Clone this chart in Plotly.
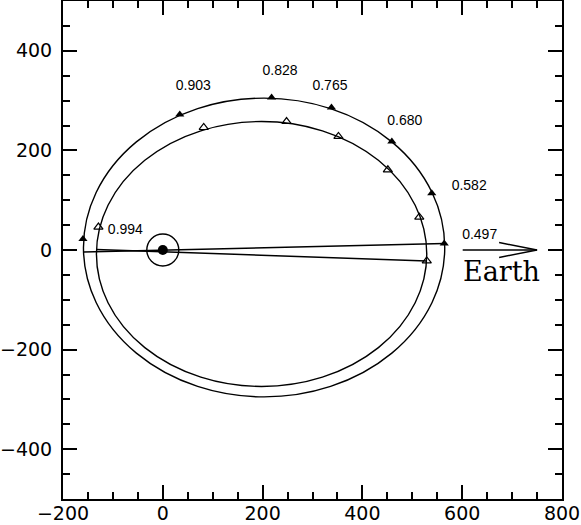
import plotly.graph_objects as go

# orbit ellipses: centre and semi-axes (data units)
outer_center = [203, 5]
outer_axes = [362, 300]
inner_center = [198, -8]
inner_axes = [331, 266]

# positions along the orbits
outer_x = [-160, 34, 218, 338, 459, 539, 564]
outer_y = [22, 272, 306, 286, 218, 114, 13]
inner_x = [-129, 82, 248, 352, 451, 514, 529]
inner_y = [46, 246, 258, 228, 161, 66, -22]

labels = ["0.994", "0.903", "0.828", "0.765", "0.680", "0.582", "0.497"]
label_x = [-75, 61, 235, 335, 485, 614, 635]
label_y = [39, 328, 359, 328, 258, 128, 29]

# lines through the Sun
line_a_x = [-159, 564]
line_a_y = [-4, 13]
line_b_x = [-133, 529]
line_b_y = [1, -22]

# direction to Earth
arrow_x = [601, 750]
arrow_y = [0, 0]
head_x = [674, 750, 674]
head_y = [15, 0, -15]
earth_pos = [679, -43]

BLACK = "#000000"


def ellipse_shape(center, axes):
    return dict(
        type="circle",
        xref="x",
        yref="y",
        x0=center[0] - axes[0],
        x1=center[0] + axes[0],
        y0=center[1] - axes[1],
        y1=center[1] + axes[1],
        line=dict(color=BLACK, width=1.4),
        layer="below",
    )


fig = go.Figure()

for xs, ys in [(line_a_x, line_a_y), (line_b_x, line_b_y), (arrow_x, arrow_y), (head_x, head_y)]:
    fig.add_trace(
        go.Scatter(
            x=xs,
            y=ys,
            mode="lines",
            line=dict(color=BLACK, width=1.4),
            showlegend=False,
            hoverinfo="skip",
        )
    )

# Sun
fig.add_trace(
    go.Scatter(
        x=[0],
        y=[0],
        mode="markers",
        marker=dict(symbol="circle-open", size=32, color=BLACK, line=dict(width=1.4)),
        showlegend=False,
    )
)
fig.add_trace(
    go.Scatter(
        x=[0],
        y=[0],
        mode="markers",
        marker=dict(symbol="circle", size=10, color=BLACK),
        showlegend=False,
    )
)

fig.add_trace(
    go.Scatter(
        x=outer_x,
        y=outer_y,
        mode="markers",
        marker=dict(symbol="triangle-up", size=8, color=BLACK),
        showlegend=False,
    )
)
fig.add_trace(
    go.Scatter(
        x=inner_x,
        y=inner_y,
        mode="markers",
        marker=dict(symbol="triangle-up-open", size=8, color=BLACK, line=dict(width=1.2)),
        showlegend=False,
    )
)

fig.add_trace(
    go.Scatter(
        x=label_x,
        y=label_y,
        mode="text",
        text=labels,
        textfont=dict(family="Liberation Sans", size=14, color=BLACK),
        showlegend=False,
    )
)

fig.add_annotation(
    x=earth_pos[0],
    y=earth_pos[1],
    text="Earth",
    showarrow=False,
    font=dict(family="DejaVu Serif", size=27, color=BLACK),
)

axis_style = dict(
    showgrid=False,
    zeroline=False,
    showline=True,
    linecolor=BLACK,
    linewidth=2,
    mirror="ticks",
    ticks="inside",
    ticklen=14,
    tickwidth=1.5,
    tickcolor=BLACK,
    dtick=200,
    automargin=False,
    ticklabeloverflow="allow",
    tickfont=dict(family="DejaVu Sans", size=19, color=BLACK),
    minor=dict(ticks="inside", ticklen=7, tickwidth=1.5, tickcolor=BLACK, dtick=50, showgrid=False),
)

fig.update_layout(
    width=581,
    height=525,
    margin=dict(l=63, r=19, t=1, b=26),
    paper_bgcolor="white",
    plot_bgcolor="white",
    shapes=[ellipse_shape(outer_center, outer_axes), ellipse_shape(inner_center, inner_axes)],
    xaxis=dict(range=[-200, 800], tick0=-200, ticklabelstandoff=-4, **axis_style),
    yaxis=dict(range=[-500, 500], tick0=-400, ticklabelstandoff=5, **axis_style),
)

fig.write_html(
    "out.html",
    config={"displayModeBar": False},
    post_script="document.body.style.margin = '0';",
)
